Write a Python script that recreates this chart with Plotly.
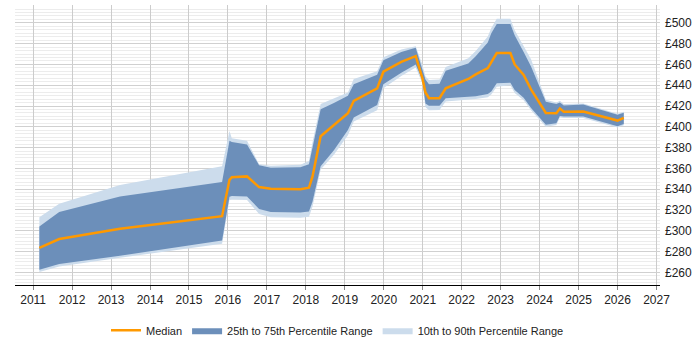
import plotly.graph_objects as go

years = [2011.16, 2011.67, 2013.23, 2015.85, 2016.04, 2016.1, 2016.49, 2016.8, 2017.1, 2017.86,
         2018.08, 2018.17, 2018.38, 2018.72, 2019.08, 2019.23, 2019.83, 2019.99, 2020.45, 2020.82,
         2020.99, 2021.07, 2021.16, 2021.43, 2021.59, 2022.17, 2022.36, 2022.67, 2022.76, 2022.9,
         2023.25, 2023.36, 2023.59, 2023.78, 2024.16, 2024.43, 2024.52, 2024.62, 2025.12, 2026.0, 2026.16]

median = [283.5, 292, 302, 314, 349, 351.5, 352.3, 342, 340.5, 340,
          341.5, 352, 391, 401.5, 413, 425, 437, 453, 462.5, 468,
          447, 433, 427.5, 427.5, 437, 446, 450.5, 456.5, 462.5, 471,
          471, 460, 450, 436, 413.3, 413, 417.5, 414.5, 414.8, 406, 408.7]

p75 = [304, 318, 333, 347, 386.5, 385.5, 383, 363, 360.5, 361,
       364, 380, 417, 423, 430, 441, 450, 464, 472, 476,
       456, 445.5, 441, 441.5, 454, 461, 468, 481, 490, 499,
       499, 488, 472, 458, 424, 422, 423.5, 420.5, 421.5, 411.5, 413.5]

p25 = [262.5, 268, 276, 290.5, 332.8, 333.5, 333, 321, 318, 317.5,
       318.5, 328, 362, 377.5, 397, 409, 421, 441, 452, 460,
       445, 422.5, 420.3, 420.3, 427.5, 428.7, 429.5, 431.5, 434, 442,
       442.5, 435.5, 428, 418, 402, 403.5, 410.5, 410, 410, 400.5, 402.8]

p90 = [313, 326, 344, 362, 396, 389, 386.5, 364, 362.5, 363.5,
       367, 385, 422, 427.5, 433, 446, 453.5, 467, 474.5, 477.5,
       460, 448.5, 445, 445.5, 457.5, 466, 473, 487, 495, 504,
       504, 493, 477, 465, 426, 423.5, 425, 422, 422.5, 412.5, 414.5]

p10 = [260.3, 265.5, 274, 287.5, 329.7, 330, 329.7, 316, 313, 312.5,
       313.5, 323, 359, 373, 392, 405, 416, 437, 449, 457,
       442, 419, 416, 416.2, 424.3, 426, 426.8, 428.5, 431, 438.5,
       440, 432.5, 425.5, 416, 400, 401.8, 409, 408.5, 408.5, 399.4, 401.6]

x_ticks = list(range(2011, 2028))
y_ticks = list(range(260, 501, 20))
y_labels = [f"£{v}" for v in y_ticks]

LIGHT = "rgb(204,220,236)"
DARK = "rgb(108,143,186)"
ORANGE = "rgb(255,153,0)"

fig = go.Figure()
fig.add_trace(go.Scatter(x=years, y=p90, mode="lines", line=dict(width=0, color=LIGHT),
                         showlegend=False, hoverinfo="skip"))
fig.add_trace(go.Scatter(x=years, y=p10, mode="lines", line=dict(width=0, color=LIGHT),
                         fill="tonexty", fillcolor=LIGHT, name="10th to 90th Percentile Range",
                         legendrank=3))
fig.add_trace(go.Scatter(x=years, y=p75, mode="lines", line=dict(width=0, color=DARK),
                         showlegend=False, hoverinfo="skip"))
fig.add_trace(go.Scatter(x=years, y=p25, mode="lines", line=dict(width=0, color=DARK),
                         fill="tonexty", fillcolor=DARK, name="25th to 75th Percentile Range",
                         legendrank=2))
fig.add_trace(go.Scatter(x=years, y=median, mode="lines", line=dict(width=2.5, color=ORANGE),
                         name="Median", legendrank=1))

fig.update_layout(
    width=700, height=350,
    margin=dict(l=15, r=40, t=5, b=58),
    paper_bgcolor="white", plot_bgcolor="white",
    font=dict(family="Liberation Sans, Arial, sans-serif", size=12, color="#222"),
    legend=dict(orientation="h", x=0.5, xanchor="center", y=-0.11, yanchor="top",
                font=dict(size=11), itemwidth=30, traceorder="normal"),
    xaxis=dict(range=[2010.535, 2027.09], tickvals=x_ticks, ticktext=[str(v) for v in x_ticks],
               showgrid=True, gridcolor="#cccccc", gridwidth=1,
               showline=True, linecolor="#000", linewidth=1,
               ticks="outside", ticklen=4, tickcolor="#888", zeroline=False),
    yaxis=dict(range=[247.8, 517.2], side="right", tickvals=y_ticks, ticktext=y_labels,
               showgrid=True, gridcolor="#d0d0d0", gridwidth=1,
               minor=dict(dtick=20/6, tick0=0, showgrid=True, gridcolor="#ececec", gridwidth=1),
               showline=False, zeroline=False, ticks="", ticklabelstandoff=4),
)

fig.write_html("out.html")
